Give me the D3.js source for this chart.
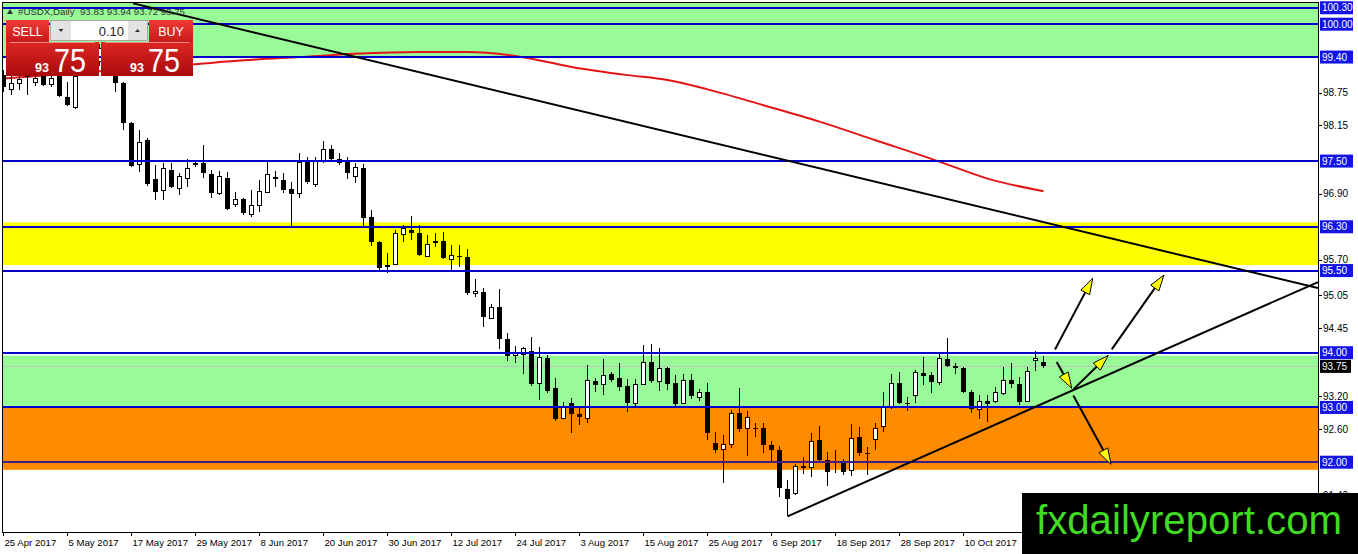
<!DOCTYPE html>
<html lang="en">
<head>
<meta charset="UTF-8">
<title>USDX Daily</title>
<script src="https://d3js.org/d3.v7.min.js"></script>
<style>
  body { margin: 0; background: #fff; }
  svg { display: block; font-family: "Liberation Sans", Arial, sans-serif; }
</style>
</head>
<body>
<div id="chart"></div>
<script>
// daily bars, first bar is 25 Apr 2017
const opens = [99.07,98.81,98.92,99.05,98.94,99.05,98.90,99.05,98.67,98.47,99.09,99.43,99.31,99.56,99.16,98.92,98.19,97.43,97.88,97.17,
  96.97,97.33,97.00,97.19,97.43,97.46,97.26,96.91,97.19,96.71,96.80,96.53,96.69,96.93,97.21,97.15,96.99,96.91,97.48,97.08,
  97.50,97.72,97.53,97.52,97.21,97.37,96.47,96.02,95.60,95.62,96.16,96.24,96.18,95.76,96.04,96.04,95.71,95.76,95.74,95.09,
  95.10,94.63,94.83,94.25,93.94,93.97,94.03,93.44,93.90,93.35,92.80,93.08,92.88,92.80,93.48,93.42,93.61,93.53,93.40,93.08,
  93.42,93.83,93.48,93.72,93.44,93.08,93.50,93.19,93.28,92.35,92.24,92.33,92.89,92.62,92.62,92.62,92.31,92.22,91.51,91.43,
  91.93,91.91,92.40,92.04,92.02,92.02,91.85,92.46,92.16,92.42,92.66,92.99,93.44,93.09,93.22,93.63,93.59,93.46,93.88,93.75,
  93.72,93.28,92.97,93.11,93.10,93.26,93.50,93.42,93.11,93.85,93.83];
const highs = [99.16,99.05,99.07,99.27,99.09,99.12,99.09,99.12,98.94,99.12,99.53,99.62,99.63,99.63,99.23,98.94,98.21,98.06,97.92,97.43,
  97.46,97.46,97.28,97.53,97.52,97.79,97.33,97.31,97.30,96.93,96.82,96.97,97.15,97.48,97.31,97.28,97.11,97.64,97.57,97.57,
  97.86,97.79,97.64,97.57,97.46,97.44,96.60,96.04,95.82,96.24,96.33,96.49,96.33,96.15,96.18,96.20,95.96,95.96,95.89,95.34,
  95.18,94.89,95.16,94.36,94.12,94.10,94.28,94.10,93.95,93.53,93.10,93.17,93.02,93.77,93.53,93.88,93.64,93.81,93.52,93.52,
  94.14,94.16,94.08,93.73,93.59,93.62,93.62,93.33,93.44,92.55,92.49,92.95,93.35,92.93,92.71,92.71,92.38,92.29,91.67,91.96,
  92.09,92.53,92.66,92.18,92.22,92.06,92.69,92.64,92.27,92.71,93.28,93.61,93.64,93.19,93.68,93.92,93.64,93.99,94.26,93.81,
  93.73,93.32,93.22,93.22,93.37,93.73,93.81,93.55,93.73,94.03,93.94];
const lows = [98.76,98.70,98.79,98.70,98.87,98.87,98.85,98.67,98.50,98.45,99.05,99.23,99.23,99.12,98.76,98.06,97.39,97.30,97.04,96.79,
  96.79,97.00,96.88,97.02,97.39,97.19,96.82,96.88,96.60,96.66,96.51,96.48,96.57,96.91,97.02,96.91,96.29,96.82,97.08,97.02,
  97.46,97.50,97.43,97.17,97.10,96.29,95.95,95.51,95.45,95.60,96.02,96.05,95.76,95.74,95.93,95.71,95.51,95.56,95.05,95.01,
  94.47,94.61,94.06,93.84,93.81,93.62,93.39,93.13,93.26,92.75,92.79,92.53,92.68,92.71,93.28,93.22,93.46,93.30,92.91,93.02,
  93.41,93.44,93.30,93.31,93.02,93.06,93.15,93.11,92.40,92.17,91.62,92.26,92.55,92.11,92.46,92.17,92.00,91.36,91.01,91.41,
  91.78,91.73,92.02,91.56,91.80,91.76,91.74,92.11,91.76,92.22,92.55,92.97,93.06,92.93,93.08,93.41,93.26,93.41,93.73,93.62,
  93.26,92.89,92.79,92.73,93.08,93.22,93.35,93.04,93.10,93.66,93.72];
const closes = [98.85,98.92,98.99,99.20,99.01,98.89,99.01,98.68,98.52,99.05,99.43,99.31,99.56,99.20,98.92,98.19,97.41,97.84,97.08,96.93,
  97.37,97.02,97.21,97.37,97.46,97.28,96.91,97.21,96.62,96.79,96.55,96.69,96.95,97.26,97.17,96.97,96.90,97.48,97.11,97.50,
  97.72,97.53,97.46,97.28,97.39,96.46,96.02,95.54,95.56,96.18,96.26,96.18,95.78,95.98,96.00,95.73,95.78,95.74,95.09,95.12,
  94.65,94.83,94.25,93.94,93.99,94.08,93.42,93.92,93.30,92.79,93.02,92.88,92.82,93.50,93.41,93.59,93.50,93.37,93.08,93.42,
  93.83,93.48,93.72,93.42,93.06,93.50,93.21,93.28,92.53,92.22,92.33,92.89,92.60,92.82,92.60,92.31,92.22,91.53,91.32,91.93,
  91.89,92.38,92.04,91.82,92.00,91.82,92.44,92.16,92.15,92.62,92.99,93.44,93.08,93.06,93.63,93.57,93.46,93.90,93.75,93.72,
  93.28,92.97,93.10,93.06,93.28,93.50,93.42,93.10,93.66,93.89,93.75];

// bottom labels, one every 8 bars
const dateLabels = ["25 Apr 2017","5 May 2017","17 May 2017","29 May 2017","8 Jun 2017","20 Jun 2017","30 Jun 2017",
  "12 Jul 2017","24 Jul 2017","3 Aug 2017","15 Aug 2017","25 Aug 2017","6 Sep 2017","18 Sep 2017","28 Sep 2017",
  "10 Oct 2017"];
const labelEvery = 8;

const priceTicks = [98.75, 98.15, 96.90, 95.70, 95.05, 94.45, 93.20, 92.60, 91.40];
const levels = [100.30, 100.00, 99.40, 97.50, 96.30, 95.50, 94.00, 93.00, 92.00];
const lastPrice = 93.75;

// shaded zones
const zoneTop = [100.40, 96.38, 93.95, 93.00];
const zoneBottom = [99.38, 95.60, 93.00, 91.86];
const zoneColor = ["#98fb98", "#ffff00", "#98fb98", "#ff8c00"];

// moving average read at a few bars
const maIdx = [0, 24, 30, 37, 44, 52, 58, 64, 71, 78, 83, 88, 95, 102, 109, 117, 123, 130];
const maVal = [99.01, 99.27, 99.34, 99.40, 99.46, 99.49, 99.49, 99.42, 99.22, 99.07, 98.98, 98.81, 98.52, 98.22, 97.88, 97.49, 97.18, 96.95];

// trend lines: [bar, price, bar, price]
const trendDown = [16.19, 100.38, 164.31, 95.18];
const trendUp = [98, 91.01, 164.31, 95.29];

// arrows drawn on the chart
const arrowFrom = [[131.44, 94.06], [138.53, 94.06], [131.65, 93.83], [133.73, 93.33], [133.73, 93.22]];
const arrowTo = [[136.15, 95.36], [145.06, 95.42], [133.53, 93.35], [138.10, 93.95], [138.44, 91.96]];

const W = 1358, H = 554;
const pL = 3, pR = 1318, pT = 3, pB = 532;

const svg = d3.select("#chart").append("svg")
  .attr("width", W).attr("height", H);

svg.append("rect").attr("width", W).attr("height", H).attr("fill", "#fff");

const x = d3.scaleLinear().domain([0, 130]).range([3.5, 1043.5]);
const y = d3.scaleLinear().domain([92, 100]).range([462.2, 24.2]);
const fmt = d3.format(".2f");

svg.append("clipPath").attr("id", "plot")
  .append("rect").attr("x", pL).attr("y", pT).attr("width", pR - pL).attr("height", pB - pT);

const plot = svg.append("g").attr("clip-path", "url(#plot)");

// zones
plot.selectAll(".zone")
  .data(zoneTop)
  .enter()
  .append("rect")
  .attr("x", pL)
  .attr("width", pR - pL)
  .attr("y", d => y(d))
  .attr("height", (d, i) => y(zoneBottom[i]) - y(d))
  .attr("fill", (d, i) => zoneColor[i]);

// bid line
plot.append("line")
  .attr("x1", pL).attr("x2", pR)
  .attr("y1", y(lastPrice)).attr("y2", y(lastPrice))
  .attr("stroke", "#c0c0c0").attr("stroke-width", 1);

// moving average
const maLine = d3.line()
  .x(d => x(d))
  .y((d, i) => y(maVal[i]))
  .curve(d3.curveMonotoneX);

plot.append("path")
  .attr("d", maLine(maIdx))
  .attr("fill", "none")
  .attr("stroke", "#e31414")
  .attr("stroke-width", 2);

// candles
const bars = d3.range(opens.length);
const candle = plot.selectAll(".candle")
  .data(bars)
  .enter()
  .append("g")
  .attr("shape-rendering", "crispEdges");

candle.append("line")
  .attr("x1", i => x(i)).attr("x2", i => x(i))
  .attr("y1", i => y(highs[i])).attr("y2", i => y(lows[i]))
  .attr("stroke", "#000");

candle.append("rect")
  .attr("x", i => closes[i] >= opens[i] ? x(i) - 2 : x(i) - 2.5)
  .attr("width", i => closes[i] >= opens[i] ? 4 : 5)
  .attr("y", i => y(Math.max(opens[i], closes[i])))
  .attr("height", i => Math.max(1, Math.abs(y(opens[i]) - y(closes[i]))))
  .attr("fill", i => closes[i] >= opens[i] ? "#fff" : "#000")
  .attr("stroke", i => closes[i] >= opens[i] ? "#000" : "none");

// horizontal levels
plot.selectAll(".level")
  .data(levels)
  .enter()
  .append("line")
  .attr("x1", pL).attr("x2", pR)
  .attr("y1", d => y(d)).attr("y2", d => y(d))
  .attr("stroke", d => d === 92 ? "#3a1f8c" : "#0000c8")
  .attr("stroke-width", 2)
  .attr("shape-rendering", "crispEdges");

// trend lines
[trendDown, trendUp].forEach(t => {
  plot.append("line")
    .attr("x1", x(t[0])).attr("y1", y(t[1]))
    .attr("x2", x(t[2])).attr("y2", y(t[3]))
    .attr("stroke", "#000").attr("stroke-width", 2);
});

// arrows
arrowFrom.forEach((a, k) => {
  const x0 = x(a[0]), y0 = y(a[1]);
  const x1 = x(arrowTo[k][0]), y1 = y(arrowTo[k][1]);
  const len = Math.hypot(x1 - x0, y1 - y0);
  const ux = (x1 - x0) / len, uy = (y1 - y0) / len;
  const headLen = Math.min(16, len * 0.6), half = 5;
  const bx = x1 - ux * headLen, by = y1 - uy * headLen;
  plot.append("line")
    .attr("x1", x0).attr("y1", y0).attr("x2", bx).attr("y2", by)
    .attr("stroke", "#000").attr("stroke-width", 2);
  const pts = [[x1, y1], [bx - uy * half, by + ux * half], [bx + uy * half, by - ux * half]];
  plot.append("polygon")
    .attr("points", pts.map(p => p.join(",")).join(" "))
    .attr("fill", "#ffff00")
    .attr("stroke", "#000")
    .attr("stroke-width", 1);
});

// frame
svg.append("rect")
  .attr("x", pL - 0.5).attr("y", pT - 0.5)
  .attr("width", pR - pL + 1).attr("height", pB - pT + 1)
  .attr("fill", "none").attr("stroke", "#000")
  .attr("shape-rendering", "crispEdges");

// right price axis
const axisR = svg.append("g").attr("font-size", "10px");
priceTicks.forEach(p => {
  axisR.append("line")
    .attr("x1", pR).attr("x2", pR + 4)
    .attr("y1", Math.round(y(p)) + 0.5).attr("y2", Math.round(y(p)) + 0.5)
    .attr("stroke", "#000");
  axisR.append("text")
    .attr("x", pR + 5).attr("y", y(p)).attr("dy", "0.35em")
    .attr("fill", "#000")
    .text(fmt(p));
});
levels.forEach(p => {
  axisR.append("rect")
    .attr("x", pR + 2).attr("y", y(p) - 6.5)
    .attr("width", 33).attr("height", 13)
    .attr("fill", "#1414e6");
  axisR.append("text")
    .attr("x", pR + 4).attr("y", y(p)).attr("dy", "0.35em")
    .attr("fill", "#fff")
    .text(fmt(p));
});
axisR.append("rect")
  .attr("x", pR + 2).attr("y", y(lastPrice) - 6.5)
  .attr("width", 31).attr("height", 13)
  .attr("fill", "#000");
axisR.append("text")
  .attr("x", pR + 4).attr("y", y(lastPrice)).attr("dy", "0.35em")
  .attr("fill", "#fff")
  .text(fmt(lastPrice));

// bottom date axis
const axisB = svg.append("g").attr("font-size", "9.6px");
dateLabels.forEach((lab, k) => {
  const bx = Math.round(x(k * labelEvery)) - 0.5;
  axisB.append("line")
    .attr("x1", bx).attr("x2", bx)
    .attr("y1", pB).attr("y2", pB + 4)
    .attr("stroke", "#000");
  axisB.append("text")
    .attr("x", bx + 1).attr("y", 546)
    .attr("fill", "#000")
    .text(lab);
});

// header
svg.append("path").attr("d", "M7,14 L10,9 L13,14 Z").attr("fill", "#333");
svg.append("text")
  .attr("x", 18).attr("y", 14.5)
  .attr("font-size", "9.7px")
  .attr("fill", "#333")
  .attr("xml:space", "preserve")
  .text("#USDX,Daily  93.83 93.94 93.72 93.75");

// one click trading panel
const defs = svg.append("defs");
const g1 = defs.append("linearGradient").attr("id", "redTop").attr("x1", 0).attr("y1", 0).attr("x2", 0).attr("y2", 1);
g1.append("stop").attr("offset", "0%").attr("stop-color", "#ee3b34");
g1.append("stop").attr("offset", "100%").attr("stop-color", "#c8191a");
const g2 = defs.append("linearGradient").attr("id", "redBox").attr("x1", 0).attr("y1", 0).attr("x2", 0).attr("y2", 1);
g2.append("stop").attr("offset", "0%").attr("stop-color", "#dc2723");
g2.append("stop").attr("offset", "100%").attr("stop-color", "#a90a0c");

const panel = svg.append("g");
panel.append("rect").attr("x", 6).attr("y", 20).attr("width", 43).attr("height", 22).attr("fill", "url(#redTop)");
panel.append("rect").attr("x", 149).attr("y", 20).attr("width", 44).attr("height", 22).attr("fill", "url(#redTop)");
panel.append("rect").attr("x", 6).attr("y", 42).attr("width", 93).attr("height", 34).attr("fill", "url(#redBox)");
panel.append("rect").attr("x", 101).attr("y", 42).attr("width", 92).attr("height", 34).attr("fill", "url(#redBox)");
panel.append("line").attr("x1", 10).attr("x2", 95).attr("y1", 42.5).attr("y2", 42.5).attr("stroke", "#f08a86");
panel.append("line").attr("x1", 105).attr("x2", 189).attr("y1", 42.5).attr("y2", 42.5).attr("stroke", "#f08a86");
panel.append("rect").attr("x", 50.5).attr("y", 20.5).attr("width", 97).attr("height", 20)
  .attr("fill", "#fff").attr("stroke", "#a8a8a8");
panel.append("rect").attr("x", 51).attr("y", 21).attr("width", 20).attr("height", 19).attr("fill", "#e2e2e2");
panel.append("rect").attr("x", 128).attr("y", 21).attr("width", 19).attr("height", 19).attr("fill", "#e2e2e2");
panel.append("path").attr("d", "M58.5,29 L63.5,29 L61,32 Z").attr("fill", "#333");
panel.append("path").attr("d", "M135,32 L140,32 L137.5,29 Z").attr("fill", "#333");
panel.append("text").attr("x", 124).attr("y", 35.5).attr("text-anchor", "end")
  .attr("font-size", "13px").attr("fill", "#222").text("0.10");
panel.append("text").attr("x", 27.5).attr("y", 36).attr("text-anchor", "middle")
  .attr("font-size", "12.5px").attr("fill", "#fff").text("SELL");
panel.append("text").attr("x", 171).attr("y", 36).attr("text-anchor", "middle")
  .attr("font-size", "12.5px").attr("fill", "#fff").text("BUY");
[[35, 54], [130, 148]].forEach(p => {
  panel.append("text").attr("x", p[0]).attr("y", 72).attr("font-size", "12.5px")
    .attr("font-weight", "bold").attr("fill", "#fff").text("93");
  panel.append("text").attr("x", p[1]).attr("y", 72).attr("font-size", "34px")
    .attr("fill", "#fff").attr("textLength", 32).attr("lengthAdjust", "spacingAndGlyphs").text("75");
});

// watermark
svg.append("rect").attr("x", 1022).attr("y", 493).attr("width", 336).attr("height", 61).attr("fill", "#000");
svg.append("text")
  .attr("x", 1036).attr("y", 534)
  .attr("font-size", "40px")
  .attr("fill", "#40dc22")
  .attr("textLength", 306)
  .attr("lengthAdjust", "spacingAndGlyphs")
  .text("fxdailyreport.com");
</script>
</body>
</html>
